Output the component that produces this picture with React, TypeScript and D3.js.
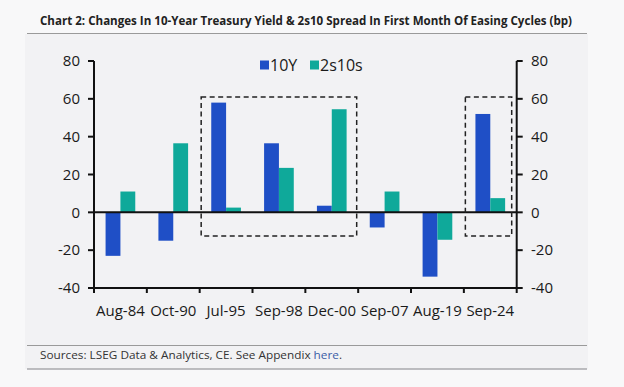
import React from "react";
import * as d3 from "d3";

const categories = ["Aug-84", "Oct-90", "Jul-95", "Sep-98", "Dec-00", "Sep-07", "Aug-19", "Sep-24"];
const seriesNames = ["10Y", "2s10s"];
const tenYear = [-23, -15, 58, 36.5, 3.5, -8, -34, 52];
const spread2s10s = [11, 36.5, 2.5, 23.5, 54.5, 11, -14.5, 7.5];
const yTicks = [-40, -20, 0, 20, 40, 60, 80];
const highlightGroups = [["Jul-95", "Dec-00"], ["Sep-24", "Sep-24"]];
const highlightRange = [-12.5, 61];

const W = 624;
const H = 387;
const BLUE = "#1f4fc6";
const TEAL = "#0fa99a";
const FONT = "'Open Sans', 'Noto Sans', sans-serif";

export default function App() {
  const left = 94;
  const right = 516.7;
  const x = d3.scaleBand<string>().domain(categories).range([left, right]).paddingInner(0).paddingOuter(0);
  const bw = x.bandwidth();
  const x1 = d3.scaleBand<string>().domain(seriesNames).range([0, bw]).paddingInner(0).paddingOuter(0.78);
  const y = d3.scaleLinear().domain([-40, 80]).range([288, 61]);
  const values = [tenYear, spread2s10s];
  const colors = [BLUE, TEAL];
  const boundaries = categories.map((c) => x(c) as number).concat([right]);

  return (
    <div style={{ position: "absolute", left: 0, top: 0 }}>
      <svg width={W} height={H} style={{ display: "block" }}>
        <rect x={0} y={0} width={W} height={H} fill="#f8f8f9" />
        <rect x={25} y={34} width={563} height={335} fill="#f2f2f4" />
        <text x={40} y={25} fontFamily={FONT} fontWeight={700} fontSize={12.5} fill="#222" textLength={532} lengthAdjust="spacingAndGlyphs">
          Chart 2: Changes In 10-Year Treasury Yield &amp; 2s10 Spread In First Month Of Easing Cycles (bp)
        </text>
        <line x1={27} x2={587} y1={33.5} y2={33.5} stroke="#9a9a9a" strokeWidth={1.2} />

        {/* bars */}
        {categories.map((c, i) =>
          values.map((vals, s) => {
            const v = vals[i];
            const y0 = y(0);
            const yv = y(v);
            return (
              <rect
                key={c + s}
                x={(x(c) as number) + (x1(seriesNames[s]) as number)}
                y={Math.min(y0, yv)}
                width={x1.bandwidth()}
                height={Math.abs(yv - y0)}
                fill={colors[s]}
              />
            );
          })
        )}

        {/* zero line */}
        <line x1={left} x2={right} y1={y(0)} y2={y(0)} stroke="#111" strokeWidth={2} />

        {/* left axis */}
        <line x1={left} x2={left} y1={y(80)} y2={y(-40) + 1} stroke="#111" strokeWidth={2} />
        {yTicks.map((t) => (
          <g key={"l" + t}>
            <line x1={left - 6} x2={left} y1={y(t)} y2={y(t)} stroke="#111" strokeWidth={2} />
            <text x={80} y={y(t)} dy="0.35em" textAnchor="end" fontFamily={FONT} fontSize={15} fill="#1a1a1a">
              {t}
            </text>
          </g>
        ))}
        {/* right axis */}
        <line x1={right} x2={right} y1={y(80)} y2={y(-40) + 1} stroke="#111" strokeWidth={2} />
        {yTicks.map((t) => (
          <g key={"r" + t}>
            <line x1={right} x2={right + 6} y1={y(t)} y2={y(t)} stroke="#111" strokeWidth={2} />
            <text x={531} y={y(t)} dy="0.35em" textAnchor="start" fontFamily={FONT} fontSize={15} fill="#1a1a1a">
              {t}
            </text>
          </g>
        ))}
        {/* bottom axis */}
        <line x1={left - 2} x2={right + 1} y1={y(-40)} y2={y(-40)} stroke="#111" strokeWidth={2} />
        {boundaries.map((b, i) => (
          <line key={"bt" + i} x1={b} x2={b} y1={y(-40)} y2={y(-40) + 5} stroke="#111" strokeWidth={2} />
        ))}
        {categories.map((c) => (
          <text key={"xl" + c} x={(x(c) as number) + bw / 2} y={316} textAnchor="middle" fontFamily={FONT} fontSize={15} fill="#1a1a1a">
            {c}
          </text>
        ))}

        {/* dashed highlight boxes */}
        {highlightGroups.map(([a, b], i) => {
          const x0 = (x(a) as number) + 1.5;
          const xe = (x(b) as number) + bw - (i === 1 ? 5 : 1.5);
          return (
            <rect
              key={"hb" + i}
              x={x0}
              y={y(highlightRange[1])}
              width={xe - x0}
              height={y(highlightRange[0]) - y(highlightRange[1])}
              fill="none"
              stroke="#222"
              strokeWidth={1.5}
              strokeDasharray="5,3.5"
            />
          );
        })}

        {/* legend */}
        <rect x={260} y={60.5} width={9} height={9} fill={BLUE} />
        <text x={270} y={65} dy="0.35em" fontFamily={FONT} fontSize={16} fill="#1a1a1a">10Y</text>
        <rect x={310} y={60.5} width={9} height={9} fill={TEAL} />
        <text x={320} y={65} dy="0.35em" fontFamily={FONT} fontSize={16} fill="#1a1a1a">2s10s</text>

        {/* source */}
        <line x1={27} x2={587} y1={345.5} y2={345.5} stroke="#9a9a9a" strokeWidth={1.2} />
        <text x={40} y={359} fontFamily={FONT} fontSize={11.5} fill="#333" textLength={302} lengthAdjust="spacingAndGlyphs">
          Sources: LSEG Data &amp; Analytics, CE. See Appendix <tspan fill="#3b5ea6">here</tspan>.
        </text>
        <line x1={27} x2={587} y1={369} y2={369} stroke="#a8a8ac" strokeWidth={1.6} />
      </svg>
    </div>
  );
}
